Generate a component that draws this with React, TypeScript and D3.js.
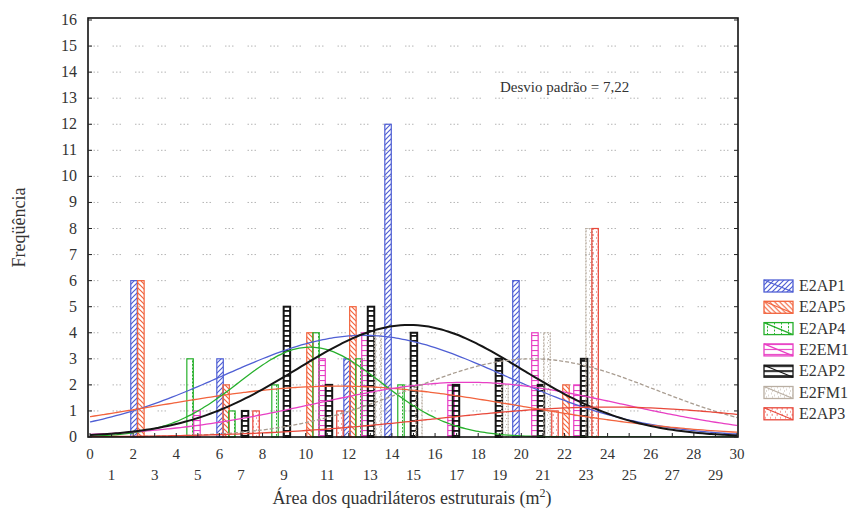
import React, { useEffect, useRef } from 'react';
import * as d3 from 'd3';

// series names, colours (legend order)
const seriesNames = ['E2AP1', 'E2AP5', 'E2AP4', 'E2EM1', 'E2AP2', 'E2FM1', 'E2AP3'];
const seriesColors = ['#4f5fd4', '#f2643e', '#27b02c', '#e83fc4', '#151515', '#b9aea2', '#e8483a'];

// histogram bars: bar centre on the area axis and frequency, per series
const barCenters = [
  [2.04, 6.03, 11.92, 13.82, 19.75],
  [2.36, 6.31, 10.2, 12.19, 22.07],
  [4.64, 6.58, 8.58, 10.48, 12.47, 14.42],
  [4.96, 10.76, 12.75, 16.74, 20.63, 22.58],
  [7.19, 9.13, 11.08, 13.03, 15.02, 16.97, 18.96, 20.91, 22.91],
  [13.35, 15.25, 19.24, 21.19, 23.14],
  [7.7, 11.59, 21.56, 23.42],
];
const barCounts = [
  [6, 3, 3, 12, 6],
  [6, 2, 4, 5, 2],
  [3, 1, 2, 4, 3, 2],
  [1, 3, 4, 2, 4, 2],
  [1, 5, 2, 5, 4, 2, 3, 2, 3],
  [4, 2, 2, 4, 8],
  [1, 1, 1, 8],
];

// fitted normal curves (mean, sd, peak frequency)
const fitMean = [12.7, 11.5, 10.2, 17.5, 14.8, 20.5, 24];
const fitSd = [6.5, 8.5, 3.3, 7.1, 5.2, 5.7, 8];
const fitPeak = [3.9, 1.95, 3.45, 2.1, 4.3, 3.0, 1.15];

const yTicks = d3.range(0, 17);
const xTicks = d3.range(0, 31);

const width = 858;
const height = 515;
const left = 88;
const right = 738;
const top = 18;
const bottom = 437;
const font = "'Liberation Serif', 'Times New Roman', serif";

export default function App() {
  const ref = useRef(null);

  useEffect(() => {
    const svg = d3.select(ref.current);
    svg.selectAll('*').remove();

    const x = d3.scaleLinear().domain([0, 30]).range([90, 737]);
    const y = d3.scaleLinear().domain([0, 16]).range([bottom, 20]);

    const defs = svg.append('defs');
    // hatch patterns
    const hatch = (id, color, d, w = 5, h = 5, sw = 1.2) => {
      defs
        .append('pattern')
        .attr('id', id)
        .attr('patternUnits', 'userSpaceOnUse')
        .attr('width', w)
        .attr('height', h)
        .append('path')
        .attr('d', d)
        .attr('stroke', color)
        .attr('stroke-width', sw)
        .attr('fill', 'none');
    };
    hatch('p0', seriesColors[0], 'M0,5L5,0M-1,1L1,-1M4,6L6,4');
    hatch('p1', seriesColors[1], 'M0,0L5,5M-1,4L1,6M4,-1L6,1');
    hatch('p2', seriesColors[2], 'M3.5,0V2', 7, 3.5, 1);
    hatch('p3', seriesColors[3], 'M0,0.5H5', 5, 5, 1.2);
    hatch('p4', seriesColors[4], 'M0,0.8H6', 6, 5, 2);
    hatch('p5', seriesColors[5], 'M1,1h1M4,3h1M2,4.5h1', 6, 6, 1);
    hatch('p6', seriesColors[6], 'M2.5,1h1.5M1,4h1', 5, 6, 1);

    const plot = svg.append('g');

    // dotted grid
    plot
      .append('g')
      .selectAll('line')
      .data(yTicks.slice(1, -1))
      .join('line')
      .attr('x1', left + 2)
      .attr('x2', right - 2)
      .attr('y1', (d) => y(d))
      .attr('y2', (d) => y(d))
      .attr('stroke', '#b5b5b5')
      .attr('stroke-width', 1)
      .attr('stroke-dasharray', '1.5,2,1.5,2,1.5,14');

    // bars
    const bw = x(0.3) - x(0);
    seriesNames.forEach((name, i) => {
      const bars = barCenters[i].map((c, j) => ({ c, v: barCounts[i][j] }));
      const g = plot.append('g');
      g.selectAll('rect')
        .data(bars)
        .join('rect')
        .attr('x', (d) => x(d.c) - bw / 2)
        .attr('y', (d) => y(d.v))
        .attr('width', bw)
        .attr('height', (d) => y(0) - y(d.v))
        .attr('fill', `url(#p${i})`)
        .attr('stroke', seriesColors[i])
        .attr('stroke-width', i === 4 ? 2 : 1.2)
        .attr('stroke-dasharray', i === 5 ? '2,1' : null);
    });

    // fitted curves
    const clip = defs.append('clipPath').attr('id', 'plot-clip');
    clip.append('rect').attr('x', left).attr('y', top).attr('width', right - left).attr('height', bottom - top);
    const pts = d3.range(0, 30.01, 0.2);
    seriesNames.forEach((name, i) => {
      const line = d3
        .line()
        .curve(d3.curveBasis)
        .x((d) => x(d))
        .y((d) => y(fitPeak[i] * Math.exp(-((d - fitMean[i]) ** 2) / (2 * fitSd[i] ** 2))));
      plot
        .append('path')
        .attr('clip-path', 'url(#plot-clip)')
        .attr('fill', 'none')
        .attr('stroke', i === 5 ? '#a89c90' : seriesColors[i])
        .attr('stroke-width', i === 4 ? 2 : 1.3)
        .attr('stroke-dasharray', i === 5 ? '4,2' : null)
        .attr('d', line(pts));
    });

    // frame
    svg
      .append('rect')
      .attr('x', left)
      .attr('y', top)
      .attr('width', right - left)
      .attr('height', bottom - top)
      .attr('fill', 'none')
      .attr('stroke', '#111')
      .attr('stroke-width', 1.6);

    // tick marks
    const ticks = svg.append('g').attr('stroke', '#222').attr('stroke-width', 1);
    yTicks.forEach((t) => {
      ticks.append('line').attr('x1', left).attr('x2', left + 4).attr('y1', y(t)).attr('y2', y(t));
      ticks.append('line').attr('x1', right).attr('x2', right - 4).attr('y1', y(t)).attr('y2', y(t));
    });
    xTicks.forEach((t) => {
      ticks.append('line').attr('x1', x(t)).attr('x2', x(t)).attr('y1', bottom).attr('y2', bottom - 4);
    });

    // tick labels
    svg
      .append('g')
      .selectAll('text')
      .data(yTicks)
      .join('text')
      .attr('x', 77)
      .attr('y', (d) => y(d) + 5)
      .attr('text-anchor', 'end')
      .attr('font-family', font)
      .attr('font-size', 16)
      .attr('fill', '#333')
      .text((d) => d);

    svg
      .append('g')
      .selectAll('text')
      .data(xTicks)
      .join('text')
      .attr('x', (d) => x(d))
      .attr('y', (d) => (d % 2 === 0 ? 459 : 480))
      .attr('text-anchor', 'middle')
      .attr('font-family', font)
      .attr('font-size', 15)
      .attr('fill', '#333')
      .text((d) => d);

    // axis titles
    svg
      .append('text')
      .attr('transform', `translate(25,${(top + bottom) / 2}) rotate(-90)`)
      .attr('text-anchor', 'middle')
      .attr('font-family', font)
      .attr('font-size', 18)
      .attr('fill', '#333')
      .text('Freqüência');

    const xt = svg
      .append('text')
      .attr('x', 412)
      .attr('y', 504)
      .attr('text-anchor', 'middle')
      .attr('font-family', font)
      .attr('font-size', 18)
      .attr('fill', '#333');
    xt.append('tspan').text('Área dos quadriláteros estruturais (m');
    xt.append('tspan').attr('font-size', 12).attr('dy', -7).text('2');
    xt.append('tspan').attr('dy', 7).text(')');

    // annotation
    svg
      .append('text')
      .attr('x', 500)
      .attr('y', 92)
      .attr('font-family', font)
      .attr('font-size', 15)
      .attr('fill', '#333')
      .text('Desvio padrão = 7,22');

    // legend
    const legend = svg
      .append('g')
      .selectAll('g')
      .data(seriesNames)
      .join('g')
      .attr('transform', (d, i) => `translate(764,${280 + i * 21.3})`);
    legend
      .append('rect')
      .attr('width', 29)
      .attr('height', 12)
      .attr('fill', (d, i) => `url(#p${i})`)
      .attr('stroke', (d, i) => seriesColors[i])
      .attr('stroke-width', 1.3);
    legend
      .append('line')
      .attr('x1', 0)
      .attr('y1', 0)
      .attr('x2', 29)
      .attr('y2', 12)
      .attr('stroke', (d, i) => seriesColors[i])
      .attr('stroke-width', 1.2);
    legend
      .append('text')
      .attr('x', 35)
      .attr('y', 11)
      .attr('font-family', font)
      .attr('font-size', 16)
      .attr('fill', '#333')
      .text((d) => d);
  }, []);

  return (
    <svg
      ref={ref}
      width={width}
      height={height}
      style={{ display: 'block', position: 'absolute', left: 0, top: 0 }}
    />
  );
}
